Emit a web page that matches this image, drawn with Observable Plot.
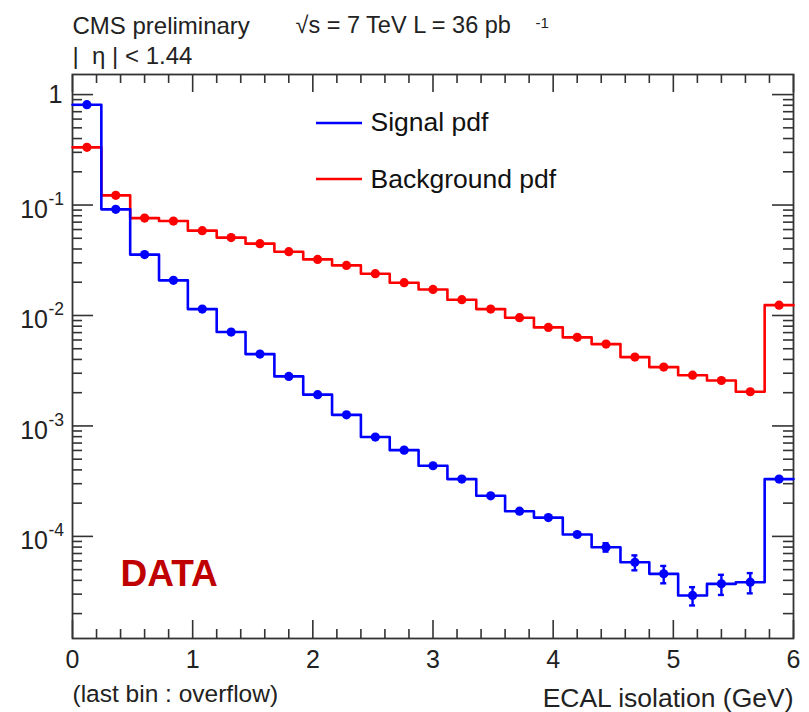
<!DOCTYPE html>
<html><head><meta charset="utf-8">
<script src="https://cdn.jsdelivr.net/npm/d3@7"></script>
<script src="https://cdn.jsdelivr.net/npm/@observablehq/plot@0.6"></script>
<style>
body{margin:0;background:#fff}
#chart{width:809px;height:712px}
</style>
</head><body><div id="chart"></div>
<script>
// ---- data ----
const binWidth = 0.24; // 25 bins from 0 to 6 GeV, last bin = overflow
const signalPdf = [0.81, 0.0914, 0.0356, 0.0208, 0.01143, 0.00708, 0.00447, 0.00281, 0.00192, 0.00126,
  0.000793, 0.000604, 0.000436, 0.00033, 0.000233, 0.000169, 0.000148, 0.000104, 0.0000798, 0.0000583,
  0.0000458, 0.0000292, 0.0000372, 0.0000385, 0.00033];
const signalErr = [0,0,0,0,0,0,0,0,0,0,0,0,0,0,0,0,0.000003,0.000004,0.000007,0.000009,0.0000082,0.0000055,0.0000077,0.000008,0];
const backgroundPdf = [0.333, 0.1224, 0.0762, 0.0716, 0.0586, 0.0507, 0.0447, 0.0378, 0.0322, 0.0284,
  0.0239, 0.0198, 0.0172, 0.0139, 0.01143, 0.00955, 0.0078, 0.00634, 0.00551, 0.0042,
  0.00341, 0.00288, 0.00258, 0.00204, 0.0124];
const seriesNames = ["Signal pdf", "Background pdf"];
const seriesColors = ["#0000ff", "#ff0000"];
const xTicks = [0, 1, 2, 3, 4, 5, 6];
const xTickLabels = ["0", "1", "2", "3", "4", "5", "6"];
const yTicks = [1, 0.1, 0.01, 0.001, 0.0001];
const yTickBase = ["1", "10", "10", "10", "10"];
const yTickExp = ["", "-1", "-2", "-3", "-4"];
const yDomain = [1.19e-5, 1.52];
const xDomain = [0, 6];

// ---- layout ----
const width = 809, height = 712;
const mL = 72, mR = 16, mT = 74, mB = 74;
const W = width - mL - mR, H = height - mT - mB;
const font = "'Liberation Sans', Arial, Helvetica, sans-serif";
const axisColor = "#333";

const stepData = vals => [...vals.map((v, i) => ({x: i * binWidth, y: v})),
  {x: vals.length * binWidth, y: vals[vals.length - 1]}];
const centerData = vals => vals.map((v, i) => ({x: (i + 0.5) * binWidth, y: v}));
const errRows = signalErr.map((e, i) => ({x: (i + 0.5) * binWidth, lo: signalPdf[i] - e, hi: signalPdf[i] + e, e}))
  .filter(d => d.e > 0);
const capRows = errRows.flatMap(d => [{x: d.x, y: d.lo}, {x: d.x, y: d.hi}]);

const xMinor = d3.range(1, 30).map(i => i * 0.2).filter(v => Math.abs(v - Math.round(v)) > 1e-6);
const yMinor = [];
for (let e = -5; e <= 0; e++) for (let m = 2; m <= 9; m++) {
  const v = m * Math.pow(10, e);
  if (v > yDomain[0] && v < yDomain[1]) yMinor.push(v);
}
const yLabelRows = yTicks.map((v, i) => ({v, base: yTickBase[i], exp: yTickExp[i]}));

const tickStyle = {stroke: axisColor, strokeWidth: 1.6};

const chart = Plot.plot({
  width, height,
  marginLeft: mL, marginRight: mR, marginTop: mT, marginBottom: mB,
  style: {fontFamily: font, background: "#fff", overflow: "visible"},
  x: {domain: xDomain, axis: null},
  y: {type: "log", domain: yDomain, axis: null},
  marks: [
    // ticks (ROOT style, inward, mirrored)
    Plot.ruleX(xTicks, {x: d => d, insetTop: H - 18, ...tickStyle}),
    Plot.ruleX(xTicks, {x: d => d, insetBottom: H - 18, ...tickStyle}),
    Plot.ruleX(xMinor, {x: d => d, insetTop: H - 9, ...tickStyle}),
    Plot.ruleX(xMinor, {x: d => d, insetBottom: H - 9, ...tickStyle}),
    Plot.ruleY(yTicks, {y: d => d, insetRight: W - 21, ...tickStyle}),
    Plot.ruleY(yTicks, {y: d => d, insetLeft: W - 21, ...tickStyle}),
    Plot.ruleY(yMinor, {y: d => d, insetRight: W - 10, ...tickStyle}),
    Plot.ruleY(yMinor, {y: d => d, insetLeft: W - 10, ...tickStyle}),
    Plot.frame({stroke: axisColor, strokeWidth: 1.8}),
    // histograms
    Plot.line(stepData(backgroundPdf), {x: "x", y: "y", curve: "step-after", stroke: seriesColors[1], strokeWidth: 2.6}),
    Plot.line(stepData(signalPdf), {x: "x", y: "y", curve: "step-after", stroke: seriesColors[0], strokeWidth: 2.6}),
    Plot.dot(centerData(backgroundPdf), {x: "x", y: "y", r: 4.6, fill: seriesColors[1], stroke: null}),
    Plot.ruleX(errRows, {x: "x", y1: "lo", y2: "hi", stroke: seriesColors[0], strokeWidth: 2.4}),
    Plot.ruleY(capRows, {y: "y", x1: d => d.x - 0.025, x2: d => d.x + 0.025, stroke: seriesColors[0], strokeWidth: 2.4}),
    Plot.dot(centerData(signalPdf), {x: "x", y: "y", r: 4.6, fill: seriesColors[0], stroke: null}),
    // tick labels
    Plot.text(xTicks, {x: d => d, text: (d, i) => xTickLabels[i], frameAnchor: "bottom", lineAnchor: "bottom", dy: 29, fontSize: 25, fill: "#222"}),
    Plot.text(yLabelRows.filter(d => d.exp === ""), {y: "v", text: "base", frameAnchor: "left", textAnchor: "end", dx: -10, dy: 0, fontSize: 25, fill: "#222"}),
    Plot.text(yLabelRows.filter(d => d.exp !== ""), {y: "v", text: "base", frameAnchor: "left", textAnchor: "end", dx: -24.5, dy: 5, fontSize: 25, fill: "#222"}),
    Plot.text(yLabelRows.filter(d => d.exp !== ""), {y: "v", text: "exp", frameAnchor: "left", textAnchor: "start", dx: -24, dy: -6, fontSize: 17.5, fill: "#222"}),
    // header
    Plot.text(["CMS preliminary"], {frameAnchor: "top-left", textAnchor: "start", lineAnchor: "bottom", dx: 0, dy: -41, fontSize: 24, fill: "#222"}),
    Plot.text(["\u221As = 7 TeV L = 36 pb"], {frameAnchor: "top-left", textAnchor: "start", lineAnchor: "bottom", dx: 223, dy: -42, fontSize: 23.5, fill: "#222"}),
    Plot.text(["-1"], {frameAnchor: "top-left", textAnchor: "start", lineAnchor: "bottom", dx: 463, dy: -47, fontSize: 15, fill: "#222"}),
    Plot.text(["|  \u03b7 | < 1.44"], {frameAnchor: "top-left", textAnchor: "start", lineAnchor: "bottom", dx: 0, dy: -11, fontSize: 24, fill: "#222"}),
    // footer
    Plot.text(["(last bin : overflow)"], {frameAnchor: "bottom-left", textAnchor: "start", lineAnchor: "bottom", dx: 0, dy: 63, fontSize: 24.5, fill: "#222"}),
    Plot.text(["ECAL isolation (GeV)"], {frameAnchor: "bottom-right", textAnchor: "end", lineAnchor: "bottom", dx: 0, dy: 68, fontSize: 26.5, fill: "#222"}),
    // DATA label
    Plot.text(["DATA"], {frameAnchor: "bottom-left", textAnchor: "start", lineAnchor: "bottom", dx: 48, dy: -53, fontSize: 37, fontWeight: "bold", fill: "#c00000"}),
    // legend text
    Plot.text(seriesNames, {frameAnchor: "top-left", textAnchor: "start", lineAnchor: "bottom", dx: 298, fontSize: 26.5, fill: "#111", filter: (d, i) => i === 0, dy: 56}),
    Plot.text(seriesNames, {frameAnchor: "top-left", textAnchor: "start", lineAnchor: "bottom", dx: 298, fontSize: 26.5, fill: "#111", filter: (d, i) => i === 1, dy: 113})
  ]
});
document.getElementById("chart").appendChild(chart);

// legend swatches
const svg = d3.select(chart);
const leg = svg.append("g");
seriesColors.forEach((c, i) => {
  leg.append("line").attr("x1", 316).attr("x2", 362)
    .attr("y1", 123 + i * 56).attr("y2", 123 + i * 56)
    .attr("stroke", c).attr("stroke-width", 2.6);
});
</script>
</body></html>
